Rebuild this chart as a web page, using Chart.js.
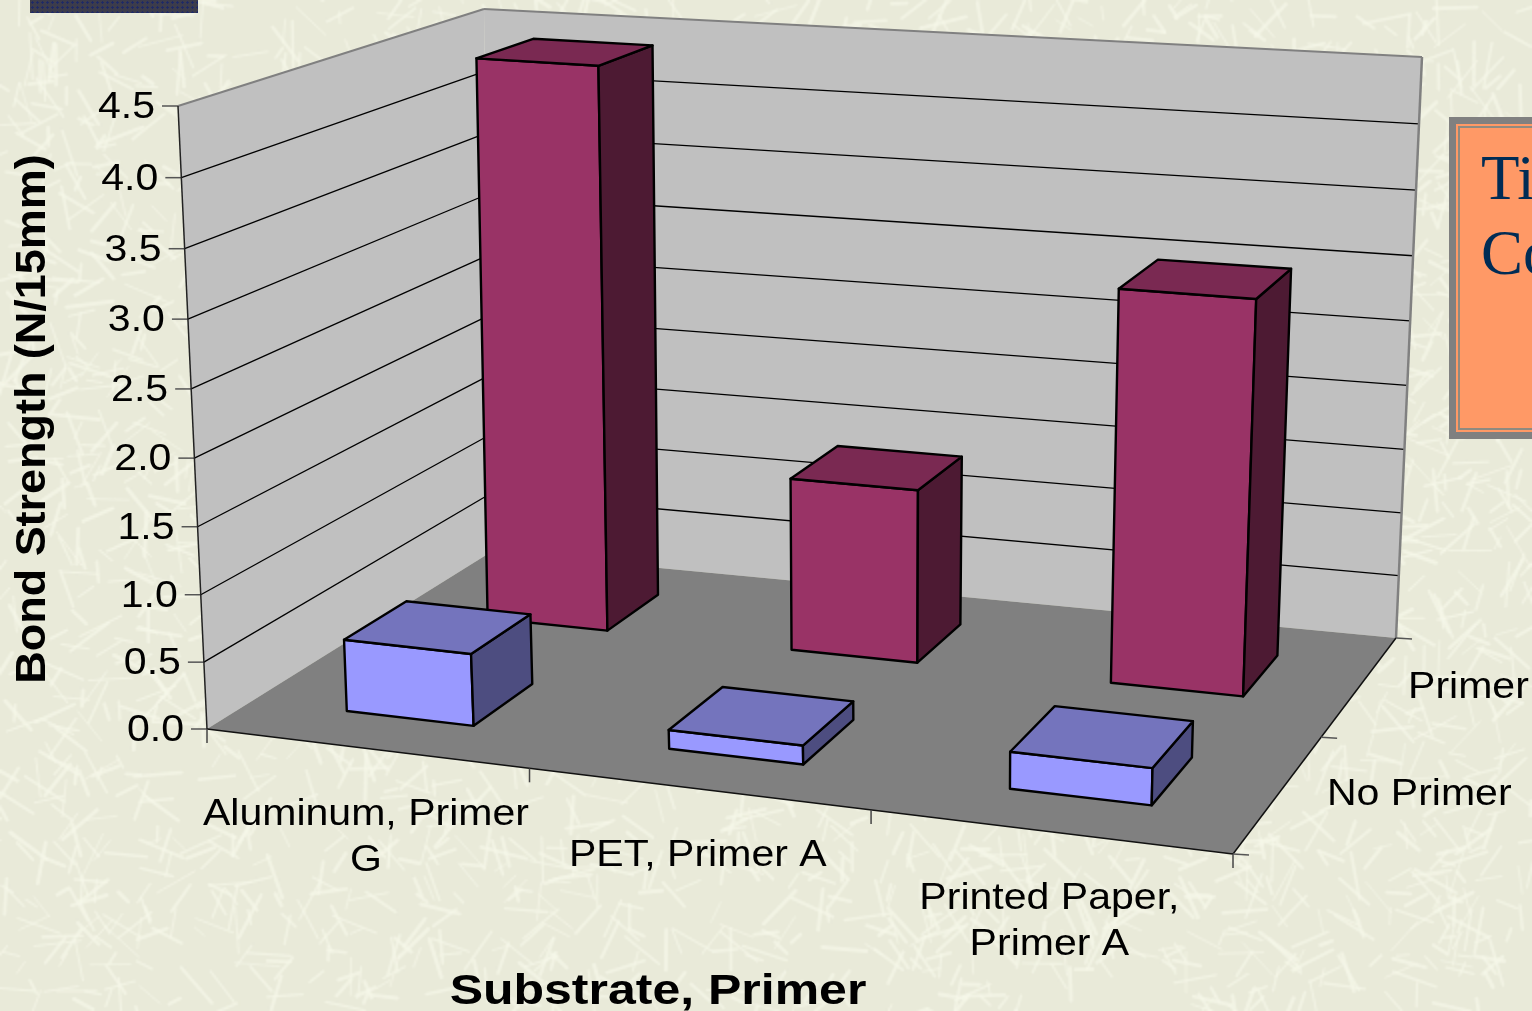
<!DOCTYPE html>
<html lang="en">
<head>
<meta charset="UTF-8">
<title>Bond Strength</title>
<script src="https://cdn.jsdelivr.net/npm/chart.js"></script>
<style>
    html, body { margin: 0; padding: 0; width: 1532px; height: 1011px; overflow: hidden; background: #e9ead9; }
    #wrap { position: absolute; left: 0; top: 0; width: 1532px; height: 1011px; }
    .tab {
        position: absolute; left: 30px; top: 0; width: 168px; height: 13px;
        background-color: #3c3c4c;
        background-image: radial-gradient(#1f2a66 1.2px, transparent 1.4px);
        background-size: 5px 5px;
    }
    .note {
        position: absolute; left: 1449px; top: 117px; width: 120px; height: 322px;
        box-sizing: border-box; border: 7px solid #808080; background: #ff9966;
        overflow: hidden;
    }
    .note i {
        position: absolute; left: 2px; top: 2px; right: 2px; bottom: 2px;
        border: 2px solid #8f8a80;
    }
    .note span {
        position: absolute; left: 25px; font: 63px "Liberation Serif", serif; color: #002c55; line-height: 76px;
    }
</style>
</head>
<body>
<div id="wrap">
    <canvas id="bondChart" width="1532" height="1011"></canvas>
    <div class="tab"></div>
    <div class="note"><i></i><span style="top:16px">Ti</span><span style="top:91px">Co</span></div>
</div>
<script>
    const categories = [["Aluminum, Primer", "G"], ["PET, Primer A"], ["Printed Paper,", "Primer A"]];
    const depthLabels = ["No Primer", "Primer"];
    const noPrimerValues = [0.54, 0.14, 0.27];
    const primerValues = [4.4, 1.35, 3.0];
    const yMax = 4.5;
    const yStep = 0.5;

    // corners of the floor and of the plane at yMax, on screen
    const floorCorners = [[207, 729], [1233, 854], [1396, 638], [491, 552]];
    const topCorners = [[178, 106], [1254, 193], [1422, 57], [484, 9]];
    const barDepth = 0.42;
    const heightBend = 1.04;
    const floorBend = 0.04;
    const topBend = 0.116;

    // maps the unit square onto four screen corners
    function homography([[x0, y0], [x1, y1], [x2, y2], [x3, y3]]) {
        const dx1 = x1 - x2, dx2 = x3 - x2, sx = x0 - x1 + x2 - x3;
        const dy1 = y1 - y2, dy2 = y3 - y2, sy = y0 - y1 + y2 - y3;
        const den = dx1 * dy2 - dx2 * dy1;
        const g = (sx * dy2 - dx2 * sy) / den;
        const h = (dx1 * sy - sx * dy1) / den;
        const a = x1 - x0 + g * x1, b = x3 - x0 + h * x3;
        const d = y1 - y0 + g * y1, e = y3 - y0 + h * y3;
        return (u, w) => {
            const n = g * u + h * w + 1;
            return [(a * u + b * w + x0) / n, (d * u + e * w + y0) / n];
        };
    }
    const floorMap = homography(floorCorners);
    const topMap = homography(topCorners);

    // u along the categories, w into the room, v up the value axis, all 0..1
    function project(u, w, v) {
        const a = floorMap(u + floorBend * u * (1 - u), w);
        const b = topMap(u + topBend * u * (1 - u), w);
        const t = v / (v + (1 - v) * heightBend);
        return [a[0] + (b[0] - a[0]) * t, a[1] + (b[1] - a[1]) * t];
    }

    function poly(ctx, pts, fill, stroke, lw) {
        ctx.beginPath();
        pts.forEach((pt, i) => i ? ctx.lineTo(pt[0], pt[1]) : ctx.moveTo(pt[0], pt[1]));
        ctx.closePath();
        if (fill) { ctx.fillStyle = fill; ctx.fill(); }
        if (stroke) { ctx.strokeStyle = stroke; ctx.lineWidth = lw; ctx.lineJoin = "round"; ctx.stroke(); }
    }

    function seg(ctx, a, b, color, lw) {
        ctx.beginPath();
        ctx.moveTo(a[0], a[1]);
        ctx.lineTo(b[0], b[1]);
        ctx.strokeStyle = color;
        ctx.lineWidth = lw;
        ctx.stroke();
    }

    // text in this chart runs wider than the font's natural width
    function wideText(ctx, str, x, y, stretch) {
        ctx.save();
        ctx.translate(x, y);
        ctx.scale(stretch, 1);
        ctx.fillText(str, 0, 0);
        ctx.restore();
    }

    // paper fibres behind the chart, drawn small and scaled up so they go soft
    let paper = null;
    function drawPaper(ctx, w, h) {
        if (!paper) {
            paper = document.createElement("canvas");
            paper.width = Math.ceil(w / 2);
            paper.height = Math.ceil(h / 2);
            const pc = paper.getContext("2d");
            pc.fillStyle = "#e9ead9";
            pc.fillRect(0, 0, paper.width, paper.height);
            let seed = 12345;
            const next = () => (seed = (seed * 16807) % 2147483647) / 2147483647;
            pc.strokeStyle = "rgba(247,248,234,0.7)";
            pc.lineCap = "round";
            for (let i = 0; i < 3500; i++) {
                const x = next() * paper.width, y = next() * paper.height;
                const ang = next() * Math.PI * 2, len = 6 + next() * 18;
                pc.lineWidth = 0.8 + next() * 1.2;
                pc.beginPath();
                pc.moveTo(x, y);
                pc.lineTo(x + Math.cos(ang) * len, y + Math.sin(ang) * len);
                pc.stroke();
            }
        }
        ctx.drawImage(paper, 0, 0, w, h);
    }

    function drawRoom(chart, ctx) {
        const yScale = chart.scales.y;
        const at = project;

        poly(ctx, [at(0, 0, 0), at(0, 0, 1), at(0, 1, 1), at(0, 1, 0)], "#c0c0c0");
        poly(ctx, [at(0, 1, 0), at(0, 1, 1), at(1, 1, 1), at(1, 1, 0)], "#c0c0c0");
        poly(ctx, [at(0, 0, 0), at(1, 0, 0), at(1, 1, 0), at(0, 1, 0)], "#808080");

        // gridlines and value ticks
        ctx.font = '36px "Liberation Sans", Arial, sans-serif';
        ctx.textAlign = "right";
        ctx.textBaseline = "middle";
        yScale.ticks.forEach(t => {
            const v = (yScale.bottom - yScale.getPixelForValue(t.value)) / yScale.height;
            const a = at(0, 0, v);
            if (t.value > 0 && t.value < yMax) {
                seg(ctx, a, at(0, 1, v), "#000", 1.3);
                seg(ctx, at(0, 1, v), at(1, 1, v), "#000", 1.3);
            }
            seg(ctx, [a[0] - 16, a[1]], a, "#555", 1.5);
            ctx.fillStyle = "#000";
            wideText(ctx, t.value.toFixed(1), a[0] - 23, a[1] + 2, 1.14);
        });

        // wall outlines
        seg(ctx, at(0, 0, 1), at(0, 1, 1), "#808080", 2);
        seg(ctx, at(0, 1, 1), at(1, 1, 1), "#808080", 2);
        seg(ctx, at(1, 1, 1), at(1, 1, 0), "#808080", 2.5);
        seg(ctx, at(0, 0, 1), at(0, 0, 0), "#222", 1.5);
        seg(ctx, at(0, 0, 0), at(1, 0, 0), "#111", 1.5);
        seg(ctx, at(1, 0, 0), at(1, 1, 0), "#111", 1.5);
    }

    function drawBar(ctx, u0, u1, w0, w1, v, front, side, top) {
        const at = project;
        poly(ctx, [at(u0, w0, 0), at(u1, w0, 0), at(u1, w0, v), at(u0, w0, v)], front, "#000", 2.4);
        poly(ctx, [at(u1, w0, 0), at(u1, w1, 0), at(u1, w1, v), at(u1, w0, v)], side, "#000", 2.4);
        poly(ctx, [at(u0, w0, v), at(u1, w0, v), at(u1, w1, v), at(u0, w1, v)], top, "#000", 2.4);
    }

    function drawAxisText(chart, ctx) {
        const xScale = chart.scales.x;
        const nCat = categories.length;
        const nDepth = depthLabels.length;

        // boundary ticks along the two floor edges
        for (let i = 0; i <= nCat; i++) {
            const a = project(i / nCat, 0, 0);
            seg(ctx, a, [a[0], a[1] + 14], "#444", 1.5);
        }
        for (let i = 0; i <= nDepth; i++) {
            const a = project(1, i / nDepth, 0);
            seg(ctx, a, [a[0] + 16, a[1] + 1], "#555", 1.5);
        }

        ctx.fillStyle = "#000";
        ctx.font = '36px "Liberation Sans", Arial, sans-serif';
        ctx.textAlign = "center";
        ctx.textBaseline = "middle";
        categories.forEach((lines, i) => {
            const u = (xScale.getPixelForValue(i) - xScale.left) / xScale.width;
            const a = project(u, 0, 0);
            lines.forEach((line, k) => wideText(ctx, line, a[0], a[1] + 67 + k * 46, 1.14));
        });

        ctx.textAlign = "left";
        const dScale = chart.scales.depth;
        depthLabels.forEach((label, i) => {
            const w = (dScale.getPixelForValue(i) - dScale.left) / dScale.width;
            const a = project(1, w, 0);
            wideText(ctx, label, a[0] + 48, a[1] + 2, 1.14);
        });

        ctx.font = 'bold 42px "Liberation Sans", Arial, sans-serif';
        ctx.textAlign = "center";
        wideText(ctx, "Substrate, Primer", 658, 992, 1.19);
        ctx.save();
        ctx.translate(33, 419);
        ctx.rotate(-Math.PI / 2);
        wideText(ctx, "Bond Strength (N/15mm)", 0, 0, 1.07);
        ctx.restore();
    }

    const roomPlugin = {
        id: "room3d",
        beforeDraw(chart) {
            drawPaper(chart.ctx, chart.width, chart.height);
        },
        beforeDatasetsDraw(chart) {
            const ctx = chart.ctx;
            const { x: xScale, y: yScale, depth: dScale } = chart.scales;
            drawRoom(chart, ctx);
            // back row first so the front boxes sit over it
            for (let ds = chart.data.datasets.length - 1; ds >= 0; ds--) {
                const set = chart.data.datasets[ds];
                const w = (dScale.getPixelForValue(ds) - dScale.left) / dScale.width;
                const half = barDepth / depthLabels.length / 2;
                chart.getDatasetMeta(ds).data.forEach(bar => {
                    const u0 = (bar.x - bar.width / 2 - xScale.left) / xScale.width;
                    const u1 = (bar.x + bar.width / 2 - xScale.left) / xScale.width;
                    const v = (yScale.bottom - bar.y) / yScale.height;
                    drawBar(ctx, u0, u1, w - half, w + half, v, set.backgroundColor, set.sideColor, set.topColor);
                });
            }
            drawAxisText(chart, ctx);
            return false; // the flat bars are replaced by the boxes above
        }
    };

    new Chart(document.getElementById("bondChart"), {
        type: "bar",
        data: {
            labels: categories.map(c => c.join(" ")),
            datasets: [
                { label: depthLabels[0], data: noPrimerValues, backgroundColor: "#9999ff", sideColor: "#4d4d80", topColor: "#7474bd", grouped: false },
                { label: depthLabels[1], data: primerValues, backgroundColor: "#993366", sideColor: "#4d1a33", topColor: "#7a2952", grouped: false }
            ]
        },
        options: {
            responsive: false,
            animation: false,
            categoryPercentage: 1,
            barPercentage: 0.40,
            layout: { padding: 0 },
            plugins: { legend: { display: false }, tooltip: { enabled: false } },
            scales: {
                x: { display: false, offset: true },
                y: { display: false, min: 0, max: yMax, ticks: { stepSize: yStep } },
                depth: { type: "category", axis: "x", display: false, labels: depthLabels, offset: true }
            }
        },
        plugins: [roomPlugin]
    });
</script>
</body>
</html>
